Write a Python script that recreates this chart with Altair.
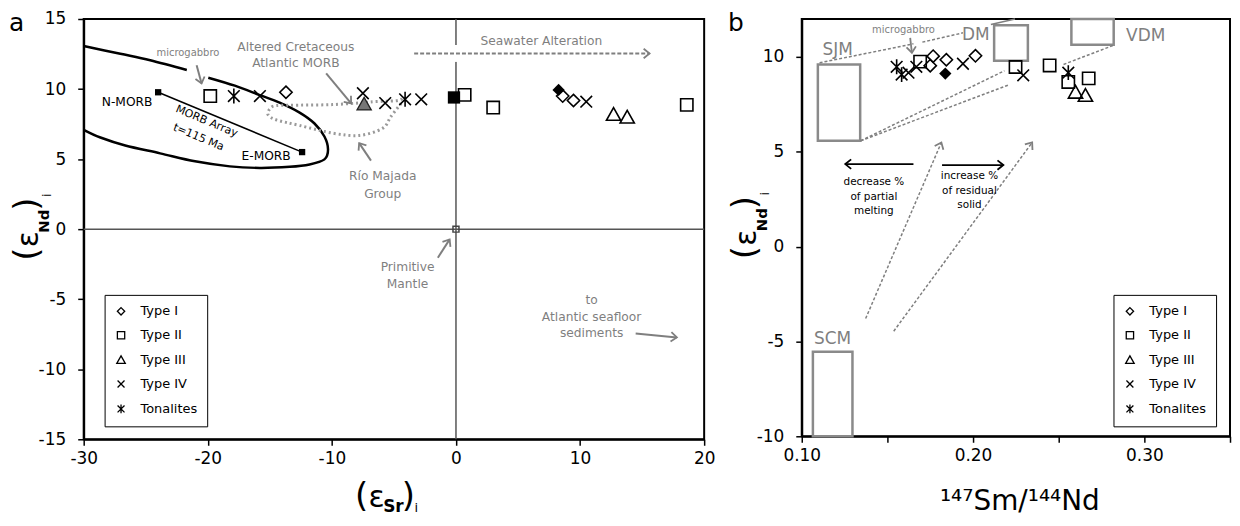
import math
import altair as alt
import pandas as pd

FONT = "DejaVu Sans"
GRAY = "#7f7f7f"
BOXGRAY = "#8a8a8a"

# ======================= Panel a data =======================
TYPE_ORDER = ["Type I", "Type II", "Type III", "Type IV", "Tonalites"]

A_TYPE = ["Type I", "Type I", "Type I",
          "Type II", "Type II", "Type II", "Type II",
          "Type III", "Type III",
          "Type IV", "Type IV", "Type IV", "Type IV", "Type IV",
          "Tonalites", "Tonalites"]
A_SR = [-13.7, 8.6, 9.47,
        -19.8, 0.7, 3.0, 18.6,
        12.7, 13.8,
        -15.8, -7.5, -5.7, -2.8, 10.5,
        -17.9, -4.1]
A_ND = [9.77, 9.5, 9.18,
        9.5, 9.58, 8.68, 8.87,
        8.16, 7.97,
        9.5, 9.7, 9.0, 9.27, 9.1,
        9.5, 9.27]

A_FDIA_SR = [8.27]
A_FDIA_ND = [9.94]
A_FSQ_SR = [-0.16]
A_FSQ_ND = [9.4]
A_ALT_SR = [-7.4]
A_ALT_ND = [8.9]

# MORB field outline (two pieces, gap near the microgabbro arrow)
MORB_SEG = [1] * 4 + [2] * 18
MORB_SR = [-30.0, -27.05, -24.64, -21.69,
           -19.96, -17.82, -15.81, -14.21, -12.6, -11.4, -10.6, -10.31, -10.6,
           -11.8, -13.4, -15.81, -18.22, -21.03, -23.84, -26.65, -28.65, -30.0]
MORB_ND = [13.07, 12.52, 12.06, 11.36,
           10.81, 10.24, 9.57, 9.03, 8.32, 7.54, 6.61, 5.69, 4.98,
           4.62, 4.45, 4.37, 4.48, 4.84, 5.41, 5.97, 6.54, 7.09]

# MORB array (N-MORB to E-MORB)
ARRAY_SR = [-24.0, -12.4]
ARRAY_ND = [9.77, 5.5]

# Rio Majada Group field (dotted loop)
RM_SR = [-4.33, -4.82, -6.58, -7.46, -9.95, -12.6, -14.47, -15.0, -15.14, -14.47,
         -12.6, -9.93, -7.78, -5.91, -5.24, -4.31]
RM_ND = [9.32, 9.17, 9.10, 9.03, 8.89, 8.85, 8.82, 8.58, 8.16, 7.80,
         7.40, 6.85, 6.69, 7.20, 8.04, 9.10]

CROSS_A_X1 = [0, -30]
CROSS_A_Y1 = [-15, 0]
CROSS_A_X2 = [0, 20]
CROSS_A_Y2 = [15, 0]

PM_SR = [0]
PM_ND = [0]

A_ARW_X1 = [-20.9, -10.46, -6.85, -1.46, 14.48]
A_ARW_Y1 = [11.7, 11.12, 4.89, -2.04, -7.45]
A_ARW_X2 = [-20.5, -8.45, -7.8, -0.51, 17.8]
A_ARW_Y2 = [10.4, 8.98, 6.14, -0.73, -7.73]

SW_X1 = [-3.37]
SW_Y1 = [12.54]
SW_X2 = [15.6]
SW_Y2 = [12.54]
SW_MASK_X1 = [-0.8]
SW_MASK_X2 = [0.8]

A_SMALL_TEXT = ["microgabbro"]
A_SMALL_SR = [-21.6]
A_SMALL_ND = [12.6]

A_GRAY_TEXT = ["Altered Cretaceous", "Atlantic MORB", "Seawater Alteration",
               "Río Majada", "Group", "Primitive", "Mantle",
               "to", "Atlantic seafloor", "sediments"]
A_GRAY_SR = [-12.9, -12.9, 6.88, -5.9, -5.9, -3.9, -3.9, 10.93, 10.93, 10.93]
A_GRAY_ND = [13.0, 11.88, 13.42, 3.77, 2.54, -2.7, -3.94, -5.05, -6.26, -7.45]

A_BLACK_TEXT = ["N-MORB", "E-MORB"]
A_BLACK_SR = [-26.5, -15.3]
A_BLACK_ND = [9.05, 5.2]

A_ROT_TEXT = ["MORB Array", "t=115 Ma"]
A_ROT_SR = [-20.1, -20.75]
A_ROT_ND = [7.68, 6.54]

A_XTICKS = [-30, -20, -10, 0, 10, 20]
A_YTICKS = [-15, -10, -5, 0, 5, 10, 15]

# ======================= Panel b data =======================
B_TYPE = ["Tonalites", "Tonalites", "Tonalites",
          "Type IV", "Type IV", "Type IV", "Type IV",
          "Type II", "Type II", "Type II", "Type II", "Type II",
          "Type I", "Type I", "Type I", "Type I",
          "Type III", "Type III"]
B_SM = [0.1554, 0.1583, 0.2556,
        0.1623, 0.1669, 0.1941, 0.2293,
        0.1691, 0.2248, 0.2447, 0.2556, 0.2675,
        0.175, 0.1767, 0.1844, 0.2014,
        0.2598, 0.2656]
B_ND = [9.48, 9.07, 9.17,
        9.17, 9.48, 9.64, 9.03,
        9.75, 9.47, 9.55, 8.68, 8.87,
        9.54, 10.04, 9.85, 10.06,
        8.12, 7.95]

B_FDIA_SM = [0.1838]
B_FDIA_ND = [9.12]

BOX_NAME = ["SJM", "DM", "VDM", "SCM"]
BOX_X1 = [0.1094, 0.2123, 0.2574, 0.1065]
BOX_X2 = [0.1341, 0.2320, 0.2821, 0.1296]
BOX_Y1 = [5.58, 9.8, 10.64, -10.0]
BOX_Y2 = [9.6, 11.67, 12.0, -5.54]
BOX_LX = [0.121, 0.2016, 0.3008, 0.118]
BOX_LY = [10.38, 11.17, 11.1, -4.85]

B_DASH_X1 = [0.1104, 0.1704, 0.1344, 0.1344, 0.2816]
B_DASH_Y1 = [9.69, 10.78, 5.58, 5.58, 10.6]
B_DASH_X2 = [0.1652, 0.1941, 0.2183, 0.2212, 0.2527]
B_DASH_Y2 = [10.69, 11.27, 9.27, 8.54, 9.6]

B_SOLID_X1 = [0.2104]
B_SOLID_Y1 = [11.71]
B_SOLID_X2 = [0.2245]
B_SOLID_Y2 = [12.0]

B_DARW_X1 = [0.1373, 0.1537]
B_DARW_Y1 = [-3.79, -4.46]
B_DARW_X2 = [0.1815, 0.2345]
B_DARW_Y2 = [5.49, 5.49]

B_GARW_X1 = [0.1633]
B_GARW_Y1 = [11.0]
B_GARW_X2 = [0.1643]
B_GARW_Y2 = [10.22]

B_KARW_X1 = [0.1652, 0.1819]
B_KARW_Y1 = [4.35, 4.30]
B_KARW_X2 = [0.1254, 0.2177]
B_KARW_Y2 = [4.35, 4.30]

B_NOTE_TEXT = ["decrease %", "of partial", "melting", "increase %", "of residual", "solid"]
B_NOTE_X = [0.1421, 0.1421, 0.1421, 0.1979, 0.1979, 0.1979]
B_NOTE_Y = [3.39, 2.64, 1.9, 3.74, 2.95, 2.2]

B_SMALL_TEXT = ["microgabbro"]
B_SMALL_X = [0.1594]
B_SMALL_Y = [11.41]

B_XTICKS = [0.10, 0.15, 0.20, 0.25, 0.30, 0.35]
B_YTICKS = [-10, -5, 0, 5, 10]

# ======================= Styling / helpers =======================
W_A, H_A = 623, 422
W_B, H_B = 430, 419

DIAMOND = "M0,-0.95L0.95,0L0,0.95L-0.95,0Z"
SQUARE = "M-0.95,-0.95H0.95V0.95H-0.95Z"
TRIANGLE = "M0,-1.1L1.1,0.85L-1.1,0.85Z"
XMARK = "M-0.9,-0.9L0.9,0.9M0.9,-0.9L-0.9,0.9"
ASTER = "M-0.9,-0.9L0.9,0.9M0.9,-0.9L-0.9,0.9M0,-1.15L0,1.15"
SHAPES = [DIAMOND, SQUARE, TRIANGLE, XMARK, ASTER]
CHEVRON = "M-1,1.25L0,0L1,1.25"

ONE = pd.DataFrame({"k": [0]})


def make_xy(domx, domy, ax, ay):
    sx = alt.Scale(domain=domx, nice=False, zero=False)
    sy = alt.Scale(domain=domy, nice=False, zero=False)

    def X(f):
        return alt.X(f, type="quantitative", scale=sx, axis=ax)

    def Y(f):
        return alt.Y(f, type="quantitative", scale=sy, axis=ay)
    return X, Y


def rule_layer(x1, y1, x2, y2, X, Y, **mk):
    df = pd.DataFrame({"x": x1, "y": y1, "x2": x2, "y2": y2})
    return alt.Chart(df).mark_rule(**mk).encode(
        x=X("x"), y=Y("y"), x2=alt.X2("x2"), y2=alt.Y2("y2"))


def head_layer(x1, y1, x2, y2, X, Y, pxx, pxy, color):
    ang = []
    for a, b, c, d in zip(x1, y1, x2, y2):
        dxp = (c - a) * pxx
        dyp = -(d - b) * pxy
        ang.append(math.degrees(math.atan2(dxp, -dyp)) % 360)
    df = pd.DataFrame({"x": x2, "y": y2, "a": ang})
    return alt.Chart(df).mark_point(
        shape=CHEVRON, size=90, filled=False, color=color, strokeWidth=1.8,
        opacity=1).encode(x=X("x"), y=Y("y"), angle=alt.Angle("a:Q", scale=None))


def text_layer(texts, xs, ys, X, Y, size, color, weight="normal", angle=0):
    df = pd.DataFrame({"t": texts, "x": xs, "y": ys})
    return alt.Chart(df).mark_text(
        font=FONT, fontSize=size, color=color, fontWeight=weight, angle=angle,
        align="center", baseline="middle").encode(x=X("x"), y=Y("y"), text="t:N")


def piece(text, x, y, size, angle=0, weight="normal", align="center"):
    return alt.Chart(ONE).mark_text(
        text=text, font=FONT, fontSize=size, fontWeight=weight, angle=angle,
        align=align, baseline="alphabetic", color="black").encode(
        x=alt.value(x), y=alt.value(y))


def ytitle(c):
    return [piece("(", -46, c + 29, 34, 270),
            piece("ε", -46, c + 14, 30, 270),
            piece("Nd", -35, c - 4, 15, 270, "bold"),
            piece(")", -46, c - 21, 34, 270),
            piece("i", -33, c - 30, 13, 270)]


def legend(x, y):
    return alt.Legend(title=None, orient="none", legendX=x, legendY=y,
                      padding=10, rowPadding=10, labelOffset=13, symbolSize=60,
                      symbolStrokeWidth=1.3, strokeColor="black", fillColor="white",
                      labelFont=FONT, labelFontSize=13, labelColor="black")


def points_layer(types, xs, ys, X, Y, lx, ly):
    df = pd.DataFrame({"type": types, "x": xs, "y": ys})
    return alt.Chart(df).mark_point(
        filled=False, color="black", strokeWidth=1.6, size=169, opacity=1).encode(
        x=X("x"), y=Y("y"),
        shape=alt.Shape("type:N", scale=alt.Scale(domain=TYPE_ORDER, range=SHAPES),
                        legend=legend(lx, ly)))


def xy_df(xs, ys):
    return pd.DataFrame({"x": xs, "y": ys})


# ======================= Panel a =======================
ax_a_x = alt.Axis(values=A_XTICKS, labelExpr="'' + datum.value", title=None)
ax_a_y = alt.Axis(values=A_YTICKS, labelExpr="'' + datum.value", title=None)
AX, AY = make_xy([-30, 20], [-15, 15], ax_a_x, ax_a_y)
PXA, PYA = W_A / 50.0, H_A / 30.0

morb_df = pd.DataFrame({"x": MORB_SR, "y": MORB_ND, "seg": MORB_SEG,
                        "i": list(range(len(MORB_SR)))})
rm_df = pd.DataFrame({"x": RM_SR, "y": RM_ND, "i": list(range(len(RM_SR)))})
arr_df = pd.DataFrame({"x": ARRAY_SR, "y": ARRAY_ND, "i": [0, 1]})

ang_arr = math.degrees(math.atan2((ARRAY_ND[0] - ARRAY_ND[1]) * PYA,
                                  (ARRAY_SR[1] - ARRAY_SR[0]) * PXA))

layers_a = [
    rule_layer(CROSS_A_X1, CROSS_A_Y1, CROSS_A_X2, CROSS_A_Y2, AX, AY,
               color="#555555", strokeWidth=1.5),
    rule_layer(SW_MASK_X1, SW_Y1, SW_MASK_X2, SW_Y2, AX, AY,
               color="white", strokeWidth=17),
    rule_layer(SW_X1, SW_Y1, SW_X2, SW_Y2, AX, AY,
               color=GRAY, strokeWidth=2, strokeDash=[4, 2]),
    head_layer(SW_X1, SW_Y1, SW_X2, SW_Y2, AX, AY, PXA, PYA, GRAY),
    alt.Chart(morb_df).mark_line(color="black", strokeWidth=2.5,
                                 interpolate="cardinal", clip=True).encode(
        x=AX("x"), y=AY("y"), detail="seg:N", order="i:Q"),
    alt.Chart(rm_df).mark_line(color="#9a9a9a", strokeWidth=3, strokeDash=[2, 3],
                               interpolate="cardinal").encode(
        x=AX("x"), y=AY("y"), order="i:Q"),
    alt.Chart(arr_df).mark_line(color="black", strokeWidth=1.5).encode(
        x=AX("x"), y=AY("y"), order="i:Q"),
    alt.Chart(arr_df).mark_point(shape="square", size=40, filled=True,
                                 color="black", opacity=1).encode(x=AX("x"), y=AY("y")),
    rule_layer(A_ARW_X1, A_ARW_Y1, A_ARW_X2, A_ARW_Y2, AX, AY,
               color=GRAY, strokeWidth=2),
    head_layer(A_ARW_X1, A_ARW_Y1, A_ARW_X2, A_ARW_Y2, AX, AY, PXA, PYA, GRAY),
    alt.Chart(xy_df(PM_SR, PM_ND)).mark_point(
        shape="square", size=36, filled=False, color="#444444", strokeWidth=1.5,
        opacity=1).encode(x=AX("x"), y=AY("y")),
    points_layer(A_TYPE, A_SR, A_ND, AX, AY, 21, 277),
    alt.Chart(xy_df(A_FDIA_SR, A_FDIA_ND)).mark_point(
        shape=DIAMOND, size=169, filled=True, color="black", opacity=1).encode(
        x=AX("x"), y=AY("y")),
    alt.Chart(xy_df(A_FSQ_SR, A_FSQ_ND)).mark_point(
        shape=SQUARE, size=169, filled=True, color="black", opacity=1).encode(
        x=AX("x"), y=AY("y")),
    alt.Chart(xy_df(A_ALT_SR, A_ALT_ND)).mark_point(
        shape=TRIANGLE, size=169, filled=True, fill="#777777", stroke="#222222",
        strokeWidth=1.3, opacity=1).encode(x=AX("x"), y=AY("y")),
    text_layer(A_SMALL_TEXT, A_SMALL_SR, A_SMALL_ND, AX, AY, 10, GRAY),
    text_layer(A_GRAY_TEXT, A_GRAY_SR, A_GRAY_ND, AX, AY, 12.3, GRAY),
    text_layer(A_BLACK_TEXT, A_BLACK_SR, A_BLACK_ND, AX, AY, 12.3, "black"),
    text_layer(A_ROT_TEXT, A_ROT_SR, A_ROT_ND, AX, AY, 11, "black", angle=ang_arr),
    piece("a", -75, 12, 25, align="left"),
    piece("(", 279, 490, 34),
    piece("ε", 294, 490, 30),
    piece("Sr", 311, 495, 17, weight="bold"),
    piece(")", 326, 490, 34),
    piece("i", 334, 495, 13),
] + ytitle(H_A / 2 - 4)

panel_a = alt.layer(*layers_a).properties(width=W_A, height=H_A)

# ======================= Panel b =======================
ax_b_x = alt.Axis(values=B_XTICKS, title=None,
                  labelExpr="abs(datum.value*10 - round(datum.value*10)) < 0.001 ? format(datum.value, '.2f') : ''")
ax_b_y = alt.Axis(values=B_YTICKS, labelExpr="'' + datum.value", title=None)
BX, BY = make_xy([0.10, 0.35], [-10, 12], ax_b_x, ax_b_y)
PXB, PYB = W_B / 0.25, H_B / 22.0

box_df = pd.DataFrame({"x": BOX_X1, "x2": BOX_X2, "y": BOX_Y1, "y2": BOX_Y2})

layers_b = [
    alt.Chart(box_df).mark_rect(fillOpacity=0, stroke=BOXGRAY, strokeWidth=2.5).encode(
        x=BX("x"), x2=alt.X2("x2"), y=BY("y"), y2=alt.Y2("y2")),
    rule_layer(B_DASH_X1, B_DASH_Y1, B_DASH_X2, B_DASH_Y2, BX, BY,
               color=GRAY, strokeWidth=1.5, strokeDash=[3, 2]),
    rule_layer(B_SOLID_X1, B_SOLID_Y1, B_SOLID_X2, B_SOLID_Y2, BX, BY,
               color=GRAY, strokeWidth=1.5),
    rule_layer(B_DARW_X1, B_DARW_Y1, B_DARW_X2, B_DARW_Y2, BX, BY,
               color=GRAY, strokeWidth=1.5, strokeDash=[3, 2]),
    head_layer(B_DARW_X1, B_DARW_Y1, B_DARW_X2, B_DARW_Y2, BX, BY, PXB, PYB, GRAY),
    rule_layer(B_GARW_X1, B_GARW_Y1, B_GARW_X2, B_GARW_Y2, BX, BY,
               color=GRAY, strokeWidth=1.8),
    head_layer(B_GARW_X1, B_GARW_Y1, B_GARW_X2, B_GARW_Y2, BX, BY, PXB, PYB, GRAY),
    rule_layer(B_KARW_X1, B_KARW_Y1, B_KARW_X2, B_KARW_Y2, BX, BY,
               color="black", strokeWidth=1.8),
    head_layer(B_KARW_X1, B_KARW_Y1, B_KARW_X2, B_KARW_Y2, BX, BY, PXB, PYB, "black"),
    points_layer(B_TYPE, B_SM, B_ND, BX, BY, 313, 277),
    alt.Chart(xy_df(B_FDIA_SM, B_FDIA_ND)).mark_point(
        shape=DIAMOND, size=169, filled=True, color="black", opacity=1).encode(
        x=BX("x"), y=BY("y")),
    text_layer(BOX_NAME, BOX_LX, BOX_LY, BX, BY, 17, GRAY),
    text_layer(B_SMALL_TEXT, B_SMALL_X, B_SMALL_Y, BX, BY, 10, GRAY),
    text_layer(B_NOTE_TEXT, B_NOTE_X, B_NOTE_Y, BX, BY, 10.5, "black"),
    piece("b", -74, 12, 25, align="left"),
    piece("¹⁴⁷Sm/¹⁴⁴Nd", 219, 493, 28),
] + ytitle(H_B / 2 - 4)

panel_b = alt.layer(*layers_b).properties(width=W_B, height=H_B)

chart = alt.hconcat(panel_a, panel_b, spacing=11).resolve_scale(
    x="independent", y="independent", shape="independent"
).resolve_legend(shape="independent").properties(
    padding={"left": 0, "top": 0, "right": 0, "bottom": 0}
).configure_view(stroke="black", strokeWidth=2).configure_axis(
    grid=False, labelFont=FONT, labelFontSize=17, labelColor="black",
    tickColor="black", tickSize=6, tickWidth=1.5, domainColor="black",
    domainWidth=2, labelFlush=False, labelOverlap=False
).configure_axisX(labelPadding=5).configure_axisY(labelPadding=12)

chart.save("out.html", embed_options={"renderer": "svg", "actions": False})
